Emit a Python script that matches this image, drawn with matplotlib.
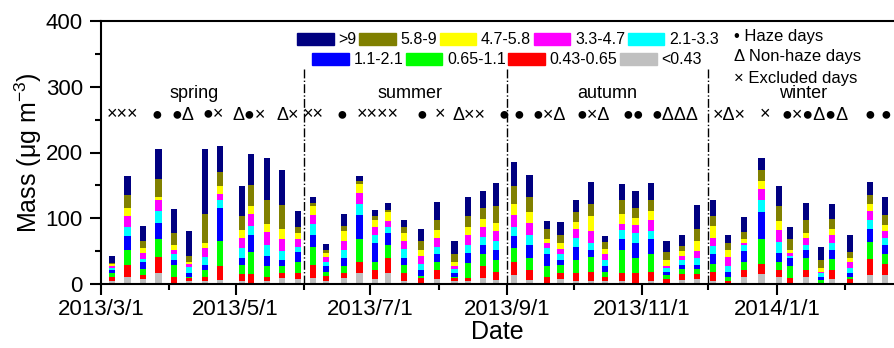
import matplotlib
matplotlib.use('Agg')
import matplotlib.pyplot as plt
import matplotlib.dates as mdates
from matplotlib.patches import Patch
import numpy as np
import datetime as dt

plt.rcParams['font.family'] = ['Liberation Sans', 'DejaVu Sans']
plt.rcParams['mathtext.fontset'] = 'custom'
plt.rcParams['mathtext.rm'] = 'Liberation Sans'
plt.rcParams['mathtext.it'] = 'Liberation Sans:italic'

# sampling days
dates = ['2013-03-06', '2013-03-13', '2013-03-20', '2013-03-27', '2013-04-03', '2013-04-10',
         '2013-04-17', '2013-04-24', '2013-05-04', '2013-05-08', '2013-05-15', '2013-05-22',
         '2013-05-29',
         '2013-06-05', '2013-06-11', '2013-06-19', '2013-06-26', '2013-07-03', '2013-07-09',
         '2013-07-16', '2013-07-24', '2013-07-31', '2013-08-08', '2013-08-14', '2013-08-21',
         '2013-08-27',
         '2013-09-04', '2013-09-11', '2013-09-19', '2013-09-25', '2013-10-02', '2013-10-09',
         '2013-10-15', '2013-10-23', '2013-10-29', '2013-11-05', '2013-11-12', '2013-11-19',
         '2013-11-26',
         '2013-12-03', '2013-12-10', '2013-12-17', '2013-12-25', '2014-01-02', '2014-01-07',
         '2014-01-14', '2014-01-21', '2014-01-26', '2014-02-03', '2014-02-12', '2014-02-19']

# mass per size bin (ug m-3), bottom to top
m_lt043 = [5, 11, 7, 17, 0, 5, 4, 6, 5, 0, 5, 9, 7,
           9, 4, 9, 16, 7, 16, 5, 0, 7, 4, 4, 9, 6,
           14, 6, 0, 7, 5, 5, 4, 5, 1, 5, 2, 6, 7,
           5, 0, 11, 15, 10, 0, 10, 0, 7, 2, 14, 14]
m_043_065 = [6, 18, 7, 24, 11, 4, 7, 21, 10, 15, 6, 8, 9,
             20, 8, 8, 18, 15, 23, 12, 9, 14, 5, 5, 18, 13,
             20, 16, 11, 10, 11, 14, 7, 11, 15, 14, 5, 9, 8,
             14, 4, 10, 16, 12, 9, 12, 2, 15, 5, 24, 17]
m_065_11 = [6, 23, 9, 27, 18, 2, 11, 38, 14, 33, 17, 10, 17,
            27, 7, 10, 34, 11, 21, 12, 3, 12, 2, 23, 19, 18,
            21, 17, 16, 12, 21, 22, 8, 35, 23, 27, 7, 8, 8,
            12, 7, 13, 38, 11, 18, 17, 4, 16, 4, 26, 15]
m_11_21 = [5, 21, 10, 25, 8, 6, 7, 51, 10, 26, 14, 10, 15,
           19, 8, 12, 37, 30, 17, 10, 10, 12, 5, 15, 14, 14,
           18, 21, 18, 8, 19, 11, 8, 18, 24, 23, 5, 6, 6,
           15, 8, 16, 40, 14, 12, 12, 5, 13, 5, 20, 14]
m_21_33 = [3, 14, 5, 18, 8, 9, 12, 12, 16, 14, 18, 13, 8,
           16, 6, 13, 17, 11, 9, 14, 9, 11, 7, 13, 12, 14,
           14, 14, 10, 8, 14, 11, 10, 13, 14, 12, 5, 7, 10,
           12, 8, 10, 19, 17, 4, 9, 5, 11, 8, 14, 10]
m_33_47 = [3, 16, 9, 16, 6, 4, 14, 9, 15, 18, 19, 18, 12,
           14, 8, 13, 16, 12, 10, 12, 12, 14, 5, 14, 15, 16,
           18, 19, 8, 8, 14, 18, 8, 10, 12, 16, 4, 7, 11,
           12, 14, 3, 16, 18, 4, 10, 3, 12, 9, 13, 11]
m_47_58 = [2, 13, 8, 5, 9, 3, 8, 12, 12, 12, 12, 16, 10,
           13, 6, 16, 14, 12, 13, 13, 9, 12, 5, 13, 12, 12,
           17, 17, 6, 9, 10, 22, 8, 14, 12, 14, 8, 7, 15,
           18, 11, 5, 12, 14, 4, 8, 5, 10, 6, 11, 8]
m_58_9 = [2, 19, 10, 27, 17, 9, 43, 21, 21, 32, 36, 36, 8,
          5, 5, 7, 4, 5, 4, 8, 13, 15, 12, 16, 16, 26,
          27, 22, 14, 12, 15, 19, 11, 22, 15, 16, 12, 8, 19,
          15, 10, 11, 18, 22, 17, 20, 13, 15, 9, 13, 16]
m_gt9 = [10, 30, 23, 46, 37, 38, 99, 40, 46, 48, 64, 53, 25,
         9, 9, 18, 9, 9, 10, 12, 19, 28, 20, 29, 27, 35,
         36, 34, 13, 20, 19, 33, 9, 24, 26, 27, 17, 16, 36,
         24, 13, 23, 18, 31, 18, 25, 20, 23, 26, 20, 28]

bins = ['<0.43', '0.43-0.65', '0.65-1.1', '1.1-2.1', '2.1-3.3',
        '3.3-4.7', '4.7-5.8', '5.8-9', '>9']
colors = ['#c0c0c0', '#ff0000', '#00ff00', '#0000ff', '#00ffff',
          '#ff00ff', '#ffff00', '#808000', '#000080']

seasons = ['spring', 'summer', 'autumn', 'winter']
season_mid = ['2013-04-12', '2013-07-19', '2013-10-16', '2014-01-13']
season_bounds = ['2013-06-01', '2013-09-01', '2013-12-01']

# day type symbols written above the bars
marks_text = ['×××', '●', '●Δ', '●×', 'Δ●×', 'Δ×', '××', '●', '××××', '●', '×', 'Δ××',
              '●', '●', '●×Δ', '●×Δ', '●●', '●ΔΔΔ', '×Δ×', '×', '●×●Δ●Δ', '●', '●']
marks_day = [2.5, 22.8, 31.9, 46, 59.6, 79.5, 91.3, 106.6, 115.7, 142.9, 151, 159.2,
             180, 186.8, 195.5, 215.4, 236.2, 249.4, 277, 298.2, 308.2, 345.6, 352.8]

start = dt.datetime(2013, 3, 1)
x = mdates.date2num([dt.datetime.strptime(d, '%Y-%m-%d') for d in dates])
data = [m_lt043, m_043_065, m_065_11, m_11_21, m_21_33, m_33_47, m_47_58, m_58_9, m_gt9]

fig = plt.figure(figsize=(8.94, 3.48), dpi=100)
ax = fig.add_axes([101 / 894, 1 - 284 / 348, 793 / 894, 263 / 348])

bottom = np.zeros(len(x))
for vals, c in zip(data, colors):
    vals = np.array(vals, dtype=float)
    ax.bar(x, vals, width=2.8, bottom=bottom, color=c, linewidth=0)
    bottom += vals

for b in season_bounds:
    ax.plot([mdates.datestr2num(b)] * 2, [0, 330], color='black', lw=1, ls='-.')

for s, m in zip(seasons, season_mid):
    ax.text(mdates.datestr2num(m), 290, s, ha='center', va='center', fontsize=13)

x0 = mdates.date2num(start)
for t, d in zip(marks_text, marks_day):
    ax.text(x0 + d, 257, t, ha='left', va='center', fontsize=13,
            family=['Liberation Sans', 'DejaVu Sans'])

ax.set_xlim(x0, x0 + 359)
ax.set_ylim(0, 400)
ax.yaxis.set_major_locator(plt.MultipleLocator(100))
ax.yaxis.set_minor_locator(plt.MultipleLocator(50))
ax.xaxis.set_major_locator(mdates.MonthLocator(bymonth=[1, 3, 5, 7, 9, 11]))
ax.xaxis.set_minor_locator(mdates.MonthLocator())

def fmt(v, pos):
    d = mdates.num2date(v)
    return f'{d.year}/{d.month}/{d.day}'

ax.xaxis.set_major_formatter(plt.FuncFormatter(fmt))
ax.tick_params(which='major', direction='out', length=8, width=1.5, labelsize=16, pad=3)
ax.tick_params(which='minor', direction='out', length=4, width=1.5)
ax.tick_params(axis='y', which='major', pad=5)
for sp in ['left', 'bottom', 'top']:
    ax.spines[sp].set_linewidth(1.5)
ax.spines['right'].set_visible(False)

ax.set_xlabel('Date', fontsize=18, labelpad=0)
ax.set_ylabel('Mass (μg m$^{-3}$)', fontsize=18, labelpad=1)

h1 = [Patch(color=colors[i]) for i in [8, 7, 6, 5, 4]]
l1 = [bins[i] for i in [8, 7, 6, 5, 4]]
h2 = [Patch(color=colors[i]) for i in [3, 2, 1, 0]]
l2 = [bins[i] for i in [3, 2, 1, 0]]
leg1 = fig.legend(h1, l1, ncol=5, loc='center left', bbox_to_anchor=(297 / 894, 1 - 40 / 348),
                  frameon=False, fontsize=11.5, handlelength=2.3, handleheight=0.8,
                  handletextpad=0.3, columnspacing=0.15, borderpad=0, borderaxespad=0)
leg2 = fig.legend(h2, l2, ncol=4, loc='center left', bbox_to_anchor=(312 / 894, 1 - 60 / 348),
                  frameon=False, fontsize=11.5, handlelength=2.3, handleheight=0.8,
                  handletextpad=0.3, columnspacing=0.15, borderpad=0, borderaxespad=0)

fig.text(734 / 894, 1 - 36 / 348, '• Haze days', fontsize=12, va='center')
fig.text(734 / 894, 1 - 57 / 348, 'Δ Non-haze days', fontsize=12, va='center')
fig.text(734 / 894, 1 - 78 / 348, '× Excluded days', fontsize=12, va='center')

fig.savefig('out.png', dpi=100)
plt.close()
